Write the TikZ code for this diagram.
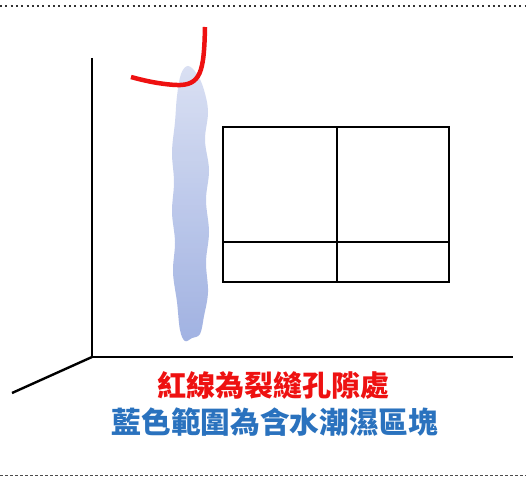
\documentclass[tikz,border=0pt]{standalone}
\usepackage{fontspec}
\usepackage{xcolor}
\newfontfamily\cjk{Noto Sans CJK TC}
\definecolor{crackred}{HTML}{EE1111}
\definecolor{wetblue}{HTML}{2A72BE}
\definecolor{damptop}{HTML}{D6DDF2}
\definecolor{dampbot}{HTML}{97AADF}

\begin{document}
\begin{tikzpicture}[x=1pt,y=-1pt]
    \useasboundingbox[fill=white] (0,0) rectangle (526,478);
    % frame lines top and bottom
    \draw[black!80,line width=1.6pt,dash pattern=on 2pt off 3.3pt] (0,6)--(526,6);
    \draw[black!70,line width=0.8pt,dash pattern=on 3pt off 2pt] (0,475)--(526,475);
    % damp area
    \shade[top color=damptop,bottom color=dampbot,opacity=0.9] plot[smooth cycle,tension=0.6] coordinates {
        (188,66) (197,74) (204,90) (208,112) (205,140) (209,170) (206,200) (209,232)
        (206,262) (208,292) (204,316) (200,334) (192,338) (185,341) (180,330) (177,302)
        (173,272) (175,242) (172,212) (174,182) (172,152) (175,122) (177,96) (181,74)};
    % wall corner
    \draw[line width=2.4pt] (92,58)--(92,357) coordinate (corner);
    \draw[line width=2.4pt] (corner)--(513,357);
    \draw[line width=2.4pt] (corner)--(12,393);
    % window
    \draw[line width=2.4pt] (223,127) rectangle (449,282);
    \draw[line width=2.4pt] (337,127)--(337,282);
    \draw[line width=2.4pt] (223,242)--(449,242);
    % crack
    \draw[crackred,line width=4.5pt] (205,27) .. controls (204,72) and (201,86) .. (176,85)
        .. controls (158,84) and (142,80) .. (131,77);
    \node[crackred,font=\cjk\bfseries\fontsize{29}{34}\selectfont] (crack) at (273,385) {紅線為裂縫孔隙處};
    \node[wetblue,font=\cjk\bfseries\fontsize{29.7}{35}\selectfont] (damp) at (275,422) {藍色範圍為含水潮濕區塊};
\end{tikzpicture}
\end{document}
